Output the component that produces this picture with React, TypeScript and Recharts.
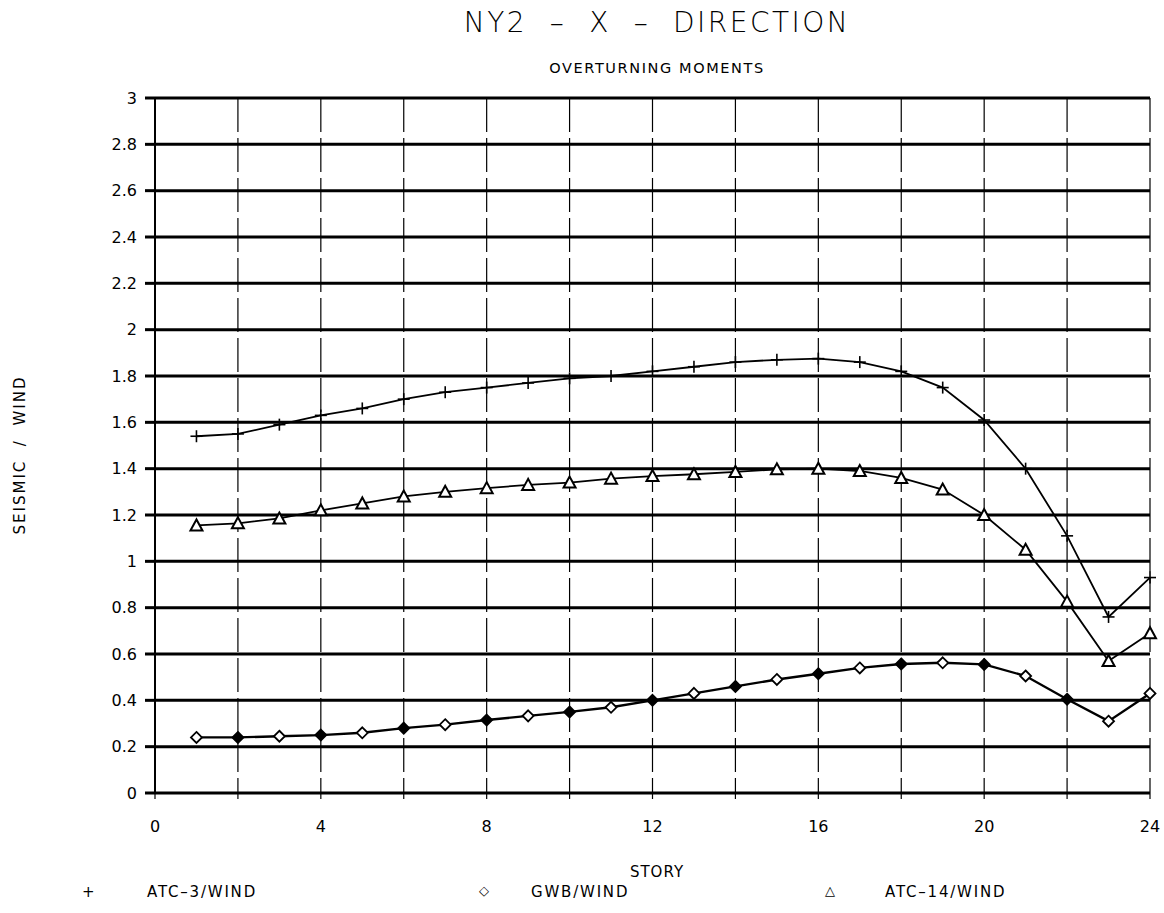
import { LineChart, Line, XAxis, YAxis, CartesianGrid } from "recharts";

const stories = [1, 2, 3, 4, 5, 6, 7, 8, 9, 10, 11, 12, 13, 14, 15, 16, 17, 18, 19, 20, 21, 22, 23, 24];

// SEISMIC / WIND ratios
const atc3 = [1.54, 1.55, 1.59, 1.63, 1.66, 1.7, 1.73, 1.75, 1.77, 1.79, 1.8, 1.82, 1.84, 1.86, 1.87, 1.875, 1.86, 1.82, 1.75, 1.61, 1.4, 1.11, 0.76, 0.93];
const gwb = [0.24, 0.24, 0.245, 0.25, 0.26, 0.28, 0.295, 0.315, 0.333, 0.35, 0.37, 0.4, 0.43, 0.46, 0.49, 0.515, 0.54, 0.557, 0.562, 0.555, 0.505, 0.405, 0.31, 0.43];
const atc14 = [1.155, 1.164, 1.185, 1.22, 1.25, 1.28, 1.3, 1.316, 1.33, 1.34, 1.357, 1.368, 1.376, 1.386, 1.397, 1.4, 1.39, 1.36, 1.31, 1.2, 1.05, 0.826, 0.57, 0.69];

const xTicks = [0, 2, 4, 6, 8, 10, 12, 14, 16, 18, 20, 22, 24];
const yTicks = [0, 0.2, 0.4, 0.6, 0.8, 1, 1.2, 1.4, 1.6, 1.8, 2, 2.2, 2.4, 2.6, 2.8, 3];

const data = stories.map((s, i) => ({ story: s, atc3: atc3[i], gwb: gwb[i], atc14: atc14[i] }));

const font = "'DejaVu Sans', sans-serif";

function PlusDot(props: any) {
  const { cx, cy, index } = props;
  if (cx == null || cy == null) return null;
  return (
    <g key={`p${index}`}>
      <line x1={cx - 6} y1={cy} x2={cx + 6} y2={cy} stroke="#000" strokeWidth={1.6} />
      <line x1={cx} y1={cy - 6} x2={cx} y2={cy + 6} stroke="#000" strokeWidth={1.6} />
    </g>
  );
}

function TriDot(props: any) {
  const { cx, cy, index } = props;
  if (cx == null || cy == null) return null;
  const h = 6;
  return (
    <polygon
      key={`t${index}`}
      points={`${cx},${cy - h} ${cx - h},${cy + h - 1} ${cx + h},${cy + h - 1}`}
      fill="#fff"
      stroke="#000"
      strokeWidth={2}
    />
  );
}

function DiamondDot(props: any) {
  const { cx, cy, index, payload } = props;
  if (cx == null || cy == null) return null;
  const filled = payload.story % 2 === 0 && payload.story < 24;
  const r = 5.5;
  return (
    <polygon
      key={`d${index}`}
      points={`${cx},${cy - r} ${cx + r},${cy} ${cx},${cy + r} ${cx - r},${cy}`}
      fill={filled ? "#000" : "#fff"}
      stroke="#000"
      strokeWidth={1.8}
    />
  );
}

const legendText = { position: "absolute" as const, top: 883, fontSize: 15, letterSpacing: 1.8 };

export default function App() {
  return (
    <div style={{ position: "absolute", left: 0, top: 0, width: 1164, height: 913, background: "#fff", fontFamily: font, color: "#000" }}>
      <div style={{ position: "absolute", left: 0, width: 1164, top: 6, textAlign: "center", paddingLeft: 150, boxSizing: "border-box", fontSize: 28, fontWeight: 200, letterSpacing: 2.5 }}>
        NY2 &nbsp;–&nbsp; X &nbsp;–&nbsp; DIRECTION
      </div>
      <div style={{ position: "absolute", left: 0, width: 1164, top: 60, textAlign: "center", paddingLeft: 150, boxSizing: "border-box", fontSize: 14.5, letterSpacing: 1.6 }}>
        OVERTURNING MOMENTS
      </div>
      <div style={{ position: "absolute", left: 20, top: 455, transform: "translate(-50%, -50%) rotate(-90deg)", fontSize: 15, whiteSpace: "nowrap", letterSpacing: 2 }}>
        SEISMIC &nbsp;/&nbsp; WIND
      </div>
      <LineChart width={1164} height={913} data={data} margin={{ top: 98, right: 14, bottom: 80, left: 95 }}>
        <CartesianGrid vertical={false} stroke="#000" strokeWidth={3} />
        <CartesianGrid horizontal={false} stroke="#000" strokeWidth={1.2} strokeDasharray="34 6" />
        <XAxis
          type="number"
          dataKey="story"
          domain={[0, 24]}
          ticks={xTicks}
          tickFormatter={(v: number) => (v % 4 === 0 ? String(v) : "")}
          axisLine={false}
          tickLine={{ stroke: "#000", strokeWidth: 1.2 }}
          tickSize={6}
          tickMargin={22}
          height={40}
          tick={{ fill: "#000", fontSize: 16, fontFamily: font }}
        />
        <YAxis
          type="number"
          domain={[0, 3]}
          ticks={yTicks}
          tickFormatter={(v: number) => String(Number(v.toFixed(1)))}
          axisLine={{ stroke: "#000", strokeWidth: 2 }}
          tickLine={{ stroke: "#000", strokeWidth: 3 }}
          tickSize={10}
          tickMargin={8}
          width={60}
          tick={{ fill: "#000", fontSize: 16, fontFamily: font }}
        />
        <Line type="linear" dataKey="atc3" stroke="#000" strokeWidth={1.8} dot={PlusDot} isAnimationActive={false} />
        <Line type="linear" dataKey="atc14" stroke="#000" strokeWidth={1.8} dot={TriDot} isAnimationActive={false} />
        <Line type="linear" dataKey="gwb" stroke="#000" strokeWidth={2.4} dot={DiamondDot} isAnimationActive={false} />
      </LineChart>
      <div style={{ position: "absolute", left: 0, width: 1164, top: 863, textAlign: "center", paddingLeft: 150, boxSizing: "border-box", fontSize: 15, letterSpacing: 1 }}>
        STORY
      </div>
      <div style={{ ...legendText, left: 82 }}>+</div>
      <div style={{ ...legendText, left: 147 }}>ATC–3/WIND</div>
      <div style={{ ...legendText, left: 479, fontSize: 13 }}>◇</div>
      <div style={{ ...legendText, left: 531 }}>GWB/WIND</div>
      <div style={{ ...legendText, left: 825, fontSize: 13 }}>△</div>
      <div style={{ ...legendText, left: 885 }}>ATC–14/WIND</div>
    </div>
  );
}
